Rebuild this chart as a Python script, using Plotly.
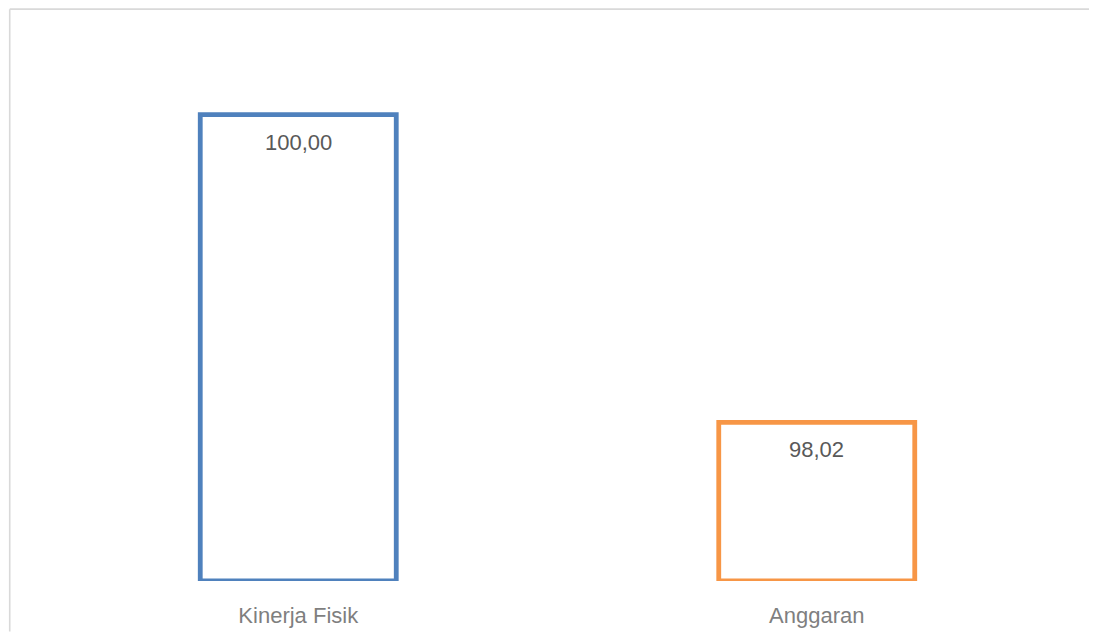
import plotly.graph_objects as go

categories = ["Kinerja Fisik", "Anggaran"]
values = [100.00, 98.02]
colors = ["#4f81bd", "#f79646"]
axis_min = 97.0
axis_max = 100.5

def fmt(v):
    return f"{v:.2f}".replace(".", ",")

FONT = "Liberation Sans, Arial, sans-serif"

fig = go.Figure()
fig.add_trace(go.Bar(
    x=categories,
    y=[v - axis_min for v in values],
    base=axis_min,
    width=0.378,
    marker=dict(color="rgba(255,255,255,0)", line=dict(color=colors, width=4.8)),
    hoverinfo="skip",
    showlegend=False,
))

for c, v in zip(categories, values):
    fig.add_annotation(x=c, y=v, xref="x", yref="y", text=fmt(v), showarrow=False,
                       yanchor="top", yshift=-13,
                       font=dict(family=FONT, size=22, color="#595959"))

# page has an 8px body margin; figure coordinates = page coordinates - 8
OFF = 8
W, H = 1097 - OFF, 640 - 2 * OFF
left, right, top, bottom = 38.5 - OFF, 1076.5 - OFF, 36.7 - OFF, 581.5 - OFF
pw, ph = right - left, bottom - top

def px_x(p):
    return (p - left) / pw

def px_y(p):
    return (bottom - p) / ph

border = dict(color="#d9d9d9", width=1.6)
# left edge of the chart frame
fig.add_shape(type="line", xref="paper", yref="paper",
              x0=px_x(1.2), x1=px_x(1.2), y0=px_y(H), y1=px_y(0.8),
              line=border, layer="below")
# top edge of the chart frame
fig.add_shape(type="line", xref="paper", yref="paper",
              x0=px_x(1.2), x1=px_x(W), y0=px_y(0.8), y1=px_y(0.8),
              line=border, layer="below")

fig.update_layout(
    width=W, height=H,
    margin=dict(l=left, r=W - right, t=top, b=H - bottom, pad=0),
    paper_bgcolor="white", plot_bgcolor="white",
    bargap=0.622,
    font=dict(family=FONT, color="#7f7f7f"),
)
fig.update_xaxes(showgrid=False, showline=False, zeroline=False, ticks="",
                 tickfont=dict(family=FONT, size=22, color="#7f7f7f"),
                 ticklabelstandoff=19, automargin=False)
fig.update_yaxes(range=[axis_min, axis_max], visible=False, showgrid=False, zeroline=False)

fig.write_html("out.html")
